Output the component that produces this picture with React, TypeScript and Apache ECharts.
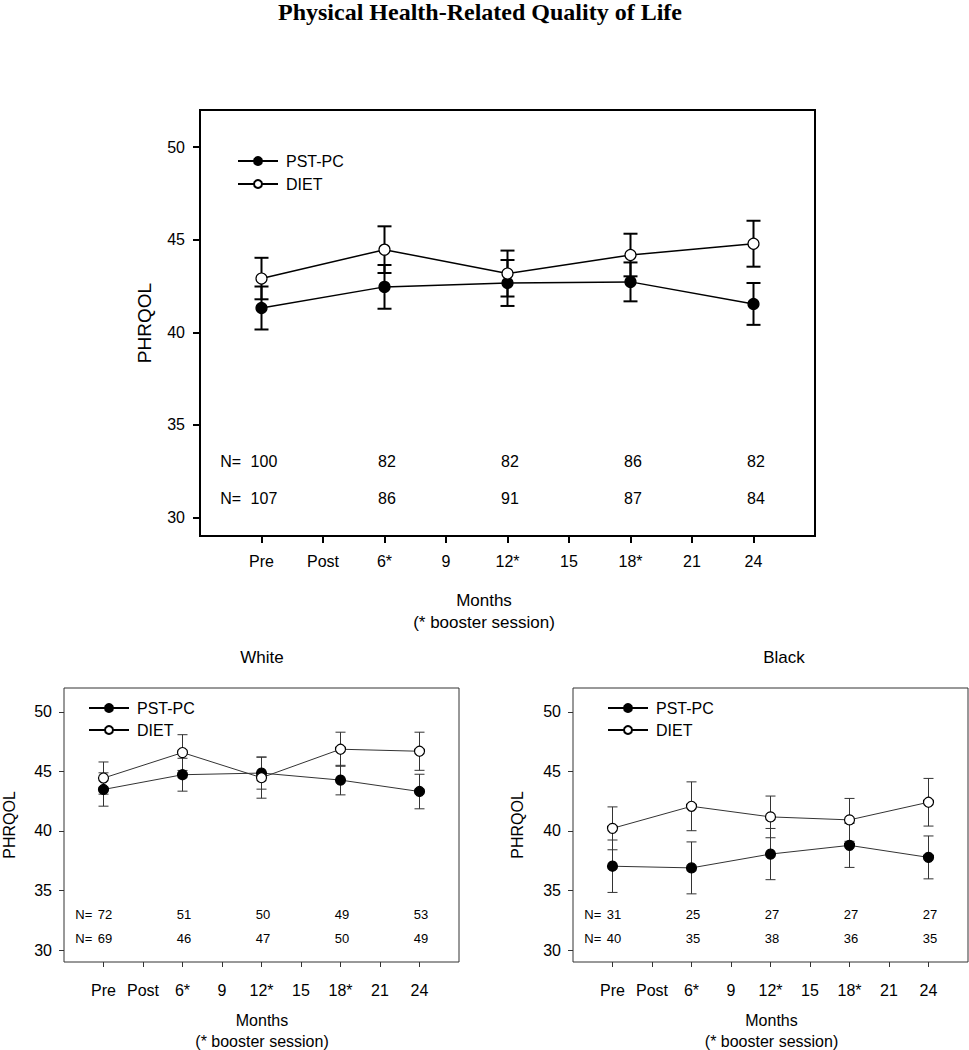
import React, { useEffect, useRef } from "react";
import * as echarts from "echarts";

const timeLabels = ["Pre", "Post", "6*", "9", "12*", "15", "18*", "21", "24"];
const measureIdx = [0, 2, 4, 6, 8];
const yTicks = [30, 35, 40, 45, 50];

// Overall
const allPst = [41.31, 42.45, 42.66, 42.72, 41.53];
const allPstErr = [1.16, 1.18, 1.24, 1.05, 1.13];
const allDiet = [42.9, 44.46, 43.17, 44.17, 44.78];
const allDietErr = [1.12, 1.26, 1.24, 1.15, 1.24];
const allNPst = [100, 82, 82, 86, 82];
const allNDiet = [107, 86, 91, 87, 84];

// White
const whitePst = [43.48, 44.72, 44.86, 44.27, 43.31];
const whitePstErr = [1.4, 1.38, 1.35, 1.24, 1.45];
const whiteDiet = [44.44, 46.58, 44.47, 46.86, 46.69];
const whiteDietErr = [1.35, 1.5, 1.72, 1.43, 1.6];
const whiteNPst = [72, 51, 50, 49, 53];
const whiteNDiet = [69, 46, 47, 50, 49];

// Black
const blackPst = [37.04, 36.9, 38.06, 38.79, 37.78];
const blackPstErr = [2.2, 2.18, 2.15, 1.85, 1.8];
const blackDiet = [40.22, 42.07, 41.18, 40.93, 42.41];
const blackDietErr = [1.8, 2.05, 1.75, 1.8, 2.0];
const blackNPst = [31, 25, 27, 27, 27];
const blackNDiet = [40, 35, 38, 36, 35];

const FONT = "Liberation Sans, Arial, sans-serif";

type Panel = {
  pst: number[]; pstErr: number[]; diet: number[]; dietErr: number[];
  nPst: number[]; nDiet: number[];
  color: string; lw: number; errLw: number; cap: number; sym: number; nFont: number;
  tickLen: number; xMargin: number; yMargin: number; yNameGap: number;
  yNameFont: number;
};

const panels: Panel[] = [
  { pst: allPst, pstErr: allPstErr, diet: allDiet, dietErr: allDietErr, nPst: allNPst, nDiet: allNDiet,
    color: "#000", lw: 1.5, errLw: 2, cap: 14, sym: 11, nFont: 16, tickLen: 7, xMargin: 17, yMargin: 15,
    yNameGap: 46, yNameFont: 19 },
  { pst: whitePst, pstErr: whitePstErr, diet: whiteDiet, dietErr: whiteDietErr, nPst: whiteNPst, nDiet: whiteNDiet,
    color: "#333", lw: 1, errLw: 1, cap: 10, sym: 10, nFont: 13, tickLen: 5, xMargin: 20, yMargin: 12,
    yNameGap: 47, yNameFont: 16 },
  { pst: blackPst, pstErr: blackPstErr, diet: blackDiet, dietErr: blackDietErr, nPst: blackNPst, nDiet: blackNDiet,
    color: "#333", lw: 1, errLw: 1, cap: 10, sym: 10, nFont: 13, tickLen: 5, xMargin: 20, yMargin: 12,
    yNameGap: 48, yNameFont: 16 },
];

const grids = [
  { left: 200, top: 110, width: 615, height: 426 },
  { left: 64, top: 688, width: 395, height: 274 },
  { left: 573, top: 688, width: 395, height: 274 },
];

function errSeries(name: string, idx: number, vals: number[], errs: number[], p: Panel) {
  return {
    name,
    type: "custom",
    xAxisIndex: idx,
    yAxisIndex: idx,
    z: 1,
    silent: true,
    data: vals.map((v, i) => [measureIdx[i], v, errs[i]]),
    encode: { x: 0, y: 1 },
    renderItem: (params: any, api: any) => {
      const x = api.value(0);
      const y = api.value(1);
      const e = api.value(2);
      const t = api.coord([x, y + e]);
      const b = api.coord([x, y - e]);
      const hw = p.cap / 2;
      const style = { stroke: p.color, lineWidth: p.errLw };
      return {
        type: "group",
        children: [
          { type: "line", shape: { x1: t[0], y1: t[1], x2: b[0], y2: b[1] }, style },
          { type: "line", shape: { x1: t[0] - hw, y1: t[1], x2: t[0] + hw, y2: t[1] }, style },
          { type: "line", shape: { x1: b[0] - hw, y1: b[1], x2: b[0] + hw, y2: b[1] }, style },
        ],
      };
    },
  };
}

function lineSeries(name: string, idx: number, vals: number[], filled: boolean, p: Panel) {
  return {
    name,
    type: "line",
    xAxisIndex: idx,
    yAxisIndex: idx,
    z: 3,
    symbol: "circle",
    symbolSize: p.sym,
    showAllSymbol: true,
    lineStyle: { color: p.color, width: p.lw },
    itemStyle: { color: filled ? "#000" : "#fff", borderColor: "#000", borderWidth: 1.2 },
    data: vals.map((v, i) => [measureIdx[i], v]),
  };
}

function nSeries(name: string, idx: number, yv: number, ns: number[], p: Panel) {
  const data: any[] = [[-0.5, yv, "N="]];
  ns.forEach((n, i) => data.push([measureIdx[i] + 0.04, yv, String(n)]));
  return {
    name,
    type: "custom",
    xAxisIndex: idx,
    yAxisIndex: idx,
    silent: true,
    data,
    encode: { x: 0, y: 1 },
    renderItem: (params: any, api: any) => {
      const c = api.coord([api.value(0), api.value(1)]);
      return {
        type: "text",
        x: c[0],
        y: c[1],
        style: {
          text: data[params.dataIndex][2],
          fill: "#000",
          fontFamily: FONT,
          fontSize: p.nFont,
          align: "center",
          verticalAlign: "middle",
        },
      };
    },
  };
}

function centerText(text: string, x: number, y: number, size: number, font = FONT, weight = "normal") {
  return {
    type: "text",
    x,
    y,
    style: { text, fontFamily: font, fontSize: size, fontWeight: weight, fill: "#000", align: "center", verticalAlign: "middle" },
  };
}

export default function App() {
  const ref = useRef<HTMLDivElement>(null);
  useEffect(() => {
    document.body.style.margin = "0";
    if (!ref.current) return;
    const chart = echarts.init(ref.current, undefined, { renderer: "svg" });

    const series: any[] = [];
    panels.forEach((p, i) => {
      series.push(errSeries("errP" + i, i, p.pst, p.pstErr, p));
      series.push(errSeries("errD" + i, i, p.diet, p.dietErr, p));
      series.push(lineSeries("PST-PC", i, p.pst, true, p));
      series.push(lineSeries("DIET", i, p.diet, false, p));
      series.push(nSeries("nP" + i, i, 33, p.nPst, p));
      series.push(nSeries("nD" + i, i, 31, p.nDiet, p));
    });

    const option: any = {
      animation: false,
      backgroundColor: "#fff",
      textStyle: { fontFamily: FONT },
      grid: grids.map((g, i) => ({
        ...g,
        show: true,
        borderColor: panels[i].color,
        borderWidth: i === 0 ? 2 : 1,
        backgroundColor: "transparent",
      })),
      xAxis: panels.map((p, i) => ({
        type: "value",
        gridIndex: i,
        min: -1,
        max: 9,
        interval: 1,
        splitLine: { show: false },
        axisLine: { show: false, onZero: false },
        axisTick: { show: true, inside: false, length: p.tickLen, customValues: [0, 1, 2, 3, 4, 5, 6, 7, 8], lineStyle: { color: p.color, width: p.errLw } },
        axisLabel: {
          customValues: [0, 1, 2, 3, 4, 5, 6, 7, 8],
          formatter: (v: number) => timeLabels[Math.round(v)] ?? "",
          color: "#000",
          fontFamily: FONT,
          fontSize: 16,
          margin: p.xMargin,
        },
      })),
      yAxis: panels.map((p, i) => ({
        type: "value",
        gridIndex: i,
        min: 29,
        max: 52,
        splitLine: { show: false },
        axisLine: { show: false, onZero: false },
        axisTick: { show: true, inside: false, length: p.tickLen, customValues: yTicks, lineStyle: { color: p.color, width: p.errLw } },
        axisLabel: {
          customValues: yTicks,
          color: "#000",
          fontFamily: FONT,
          fontSize: 16,
          margin: p.yMargin,
        },
        name: "PHRQOL",
        nameLocation: "middle",
        nameRotate: 90,
        nameGap: p.yNameGap,
        nameTextStyle: { color: "#000", fontFamily: FONT, fontSize: p.yNameFont },
      })),
      legend: [
        { left: 237, top: 153, itemGap: 7 },
        { left: 88, top: 700, itemGap: 6 },
        { left: 607, top: 700, itemGap: 6 },
      ].map((l) => ({
        ...l,
        padding: 0,
        orient: "vertical",
        data: ["PST-PC", "DIET"],
        itemWidth: 40,
        itemHeight: 10,
        selectedMode: false,
        textStyle: { color: "#000", fontFamily: FONT, fontSize: 16, padding: [0, 0, 0, 3] },
      })),
      graphic: [
        centerText("Physical Health-Related Quality of Life", 480, 12, 24, "'Liberation Serif', 'Times New Roman', serif", "bold"),
        centerText("Months", 484, 600, 17),
        centerText("(* booster session)", 484, 622, 17),
        centerText("White", 262, 657, 17),
        centerText("Black", 784, 657, 17),
        centerText("Months", 262, 1020, 16),
        centerText("(* booster session)", 262, 1041.5, 16),
        centerText("Months", 771.5, 1020, 16),
        centerText("(* booster session)", 771.5, 1041.5, 16),
      ],
      series,
    };
    chart.setOption(option);
    return () => chart.dispose();
  }, []);
  return <div ref={ref} style={{ width: 969, height: 1050 }} />;
}
